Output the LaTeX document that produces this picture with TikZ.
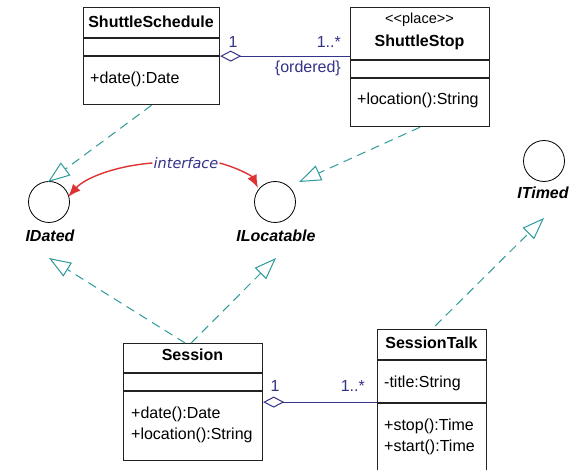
\documentclass[tikz,border=0pt]{standalone}
\usepackage{fontspec}
\setmainfont{Liberation Sans}
\newfontfamily\ifacefont{DejaVu Sans}
\usetikzlibrary{arrows.meta}
\definecolor{tealline}{HTML}{2E9A9A}
\definecolor{navyline}{HTML}{333388}
\definecolor{redline}{HTML}{DD3333}
\definecolor{boxcol}{HTML}{222222}
\begin{document}
\begin{tikzpicture}[x=1pt,y=-1pt,
  every node/.style={font=\fontsize{16}{19}\selectfont, inner sep=0pt},
  boxline/.style={draw=boxcol, line width=1.2pt},
  classbox/.style={rectangle, draw=boxcol, line width=1.2pt, anchor=north west},
  titletext/.style={font=\fontsize{16}{19}\selectfont\bfseries},
  membertext/.style={anchor=west},
  real/.style={draw=tealline, line width=1pt, dash pattern=on 9pt off 6pt,
    -{Triangle[open,length=22pt,width=16pt,line width=1pt]}},
  assoc/.style={draw=navyline, line width=1pt,
    {Diamond[open,length=21pt,width=11pt,line width=1pt]}-},
  multtext/.style={text=navyline},
  iface/.style={circle, draw=black, line width=0.8pt, minimum size=41pt},
  ifacelabel/.style={font=\fontsize{16}{19}\selectfont\bfseries\itshape},
  note/.style={draw=redline, line width=1.4pt, -{Latex[length=13pt,width=10pt]}}
]
\clip (0,0) rectangle (570,470);
\fill[white] (0,0) rectangle (570,470);

% ShuttleSchedule
\node[classbox, minimum width=136pt, minimum height=97pt] (sched) at (83,7) {};
\draw[boxline] (83,38) -- (219,38);
\draw[boxline] (83,56) -- (219,56);
\node[titletext] (schedT) at (151,22) {ShuttleSchedule};
\node[membertext] (schedOp) at (90,79) {+date():Date};

% ShuttleStop
\node[classbox, minimum width=139pt, minimum height=119pt] (stop) at (350,7) {};
\draw[boxline] (350,60) -- (489,60);
\draw[boxline] (350,78) -- (489,78);
\node[font=\fontsize{14.5}{17}\selectfont] (stopS) at (419.5,20) {<{}<place>{}>};
\node[titletext] (stopT) at (419.5,42) {ShuttleStop};
\node[membertext] (stopOp) at (357,100) {+location():String};

% Session
\node[classbox, minimum width=139pt, minimum height=117pt] (session) at (123,343) {};
\draw[boxline] (123,373) -- (262,373);
\draw[boxline] (123,391) -- (262,391);
\node[titletext] (sessT) at (192.5,355) {Session};
\node[membertext] (sessOp1) at (131,414) {+date():Date};
\node[membertext] (sessOp2) at (131,435) {+location():String};

% SessionTalk
\node[classbox, minimum width=109pt, minimum height=160pt] (talk) at (377,329) {};
\draw[boxline] (377,360) -- (486,360);
\draw[boxline] (377,403) -- (486,403);
\node[titletext] (talkT) at (431.5,343) {SessionTalk};
\node[membertext] (talkA) at (384,383) {-title:String};
\node[membertext] (talkOp1) at (384,426) {+stop():Time};
\node[membertext] (talkOp2) at (384,447) {+start():Time};

% Interfaces
\node[iface] (idated) at (49,202) {};
\node[ifacelabel] (idatedL) at (50,236) {IDated};
\node[iface] (iloc) at (275,202) {};
\node[ifacelabel] (ilocL) at (276,236) {ILocatable};
\node[iface] (itimed) at (544,161) {};
\node[ifacelabel] (itimedL) at (543,193) {ITimed};

% interface note
\node[font=\ifacefont\fontsize{14.5}{17}\selectfont\itshape, text=navyline] (ilab) at (186,163) {interface};
\coordinate (redL) at (68,197);
\coordinate (redR) at (258,188);
\draw[note] ([xshift=-1pt]ilab.west) .. controls (115,166) and (85,178) .. (redL);
\draw[note] ([xshift=1pt]ilab.east) .. controls (238,168) and (252,176) .. (redR);

% realization arrows
\coordinate (tipDtop) at (48,182);
\coordinate (tipDbot) at (49,258);
\coordinate (tipLtop) at (299,182);
\coordinate (tipLbot) at (276,258);
\coordinate (tipT) at (544,218);
\draw[real] (sched.south) -- (tipDtop);
\draw[real] (stop.south) -- (tipLtop);
\draw[real] ([xshift=-8pt]session.north) -- (tipDbot);
\draw[real] ([xshift=-2pt]session.north) -- (tipLbot);
\draw[real] ([xshift=3pt,yshift=3pt]talk.north) -- (tipT);

% associations
\draw[assoc] (sched.east) -- (sched.east -| stop.west);
\node[multtext] (m1) at (233,42) {1};
\node[multtext, anchor=east] (m2) at (341,42) {1..*};
\node[multtext, anchor=east] (ord) at (341,68) {\{ordered\}};
\draw[assoc] (session.east) -- (session.east -| talk.west);
\node[multtext] (m3) at (275,386) {1};
\node[multtext, anchor=east] (m4) at (365,386) {1..*};
\end{tikzpicture}
\end{document}
